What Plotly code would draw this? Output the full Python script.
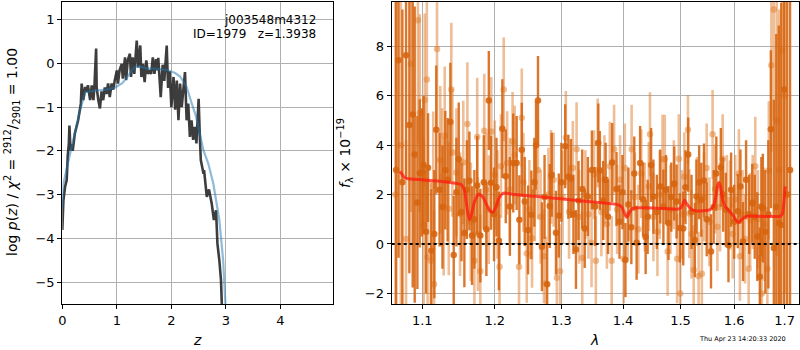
import plotly.graph_objects as go

# ---------------- p(z) panel data ----------------
z_pz = [0.0, 0.02, 0.05, 0.08, 0.10, 0.12, 0.13, 0.15, 0.17, 0.19, 0.23, 0.29, 0.34, 0.355,
        0.385, 0.42, 0.44, 0.47, 0.51, 0.54, 0.57, 0.59, 0.62, 0.63, 0.66, 0.69, 0.72, 0.75,
        0.78, 0.81, 0.84, 0.87, 0.905, 0.935, 0.96, 1.0, 1.02, 1.05, 1.09, 1.11, 1.15, 1.17,
        1.2, 1.24, 1.26, 1.29, 1.32, 1.365, 1.39, 1.43, 1.45, 1.48, 1.51, 1.54, 1.57, 1.60,
        1.63, 1.66, 1.69, 1.72, 1.745, 1.76, 1.805, 1.84, 1.87, 1.915, 1.94, 1.97, 2.0, 2.04,
        2.07, 2.1, 2.13, 2.16, 2.19, 2.25, 2.28, 2.31, 2.34, 2.37, 2.4, 2.43, 2.46, 2.5,
        2.52, 2.54, 2.59, 2.6, 2.65, 2.69, 2.74, 2.78, 2.82, 2.845, 2.88, 2.91, 2.925, 2.95]
logp_pz = [-3.81, -3.13, -2.82, -2.67, -2.1, -1.83, -1.42, -1.99, -1.85, -2.0, -1.6, -1.3, -0.92, -0.46,
           -0.84, -0.54, -0.65, -0.5, -0.84, -0.5, -0.84, -0.5, 0.34, -0.55, -0.84, -1.03, -0.64, -0.84,
           -0.55, -0.7, -0.46, -0.77, -0.46, -0.6, -0.4, -0.16, -0.46, -0.16, -0.01, -0.35, 0.14, -0.38,
           0.07, 0.22, -0.31, 0.14, -0.24, 0.52, -0.09, 0.41, -0.31, -0.01, -0.43, 0.07, -0.24, -0.16,
           -0.24, 0.14, -0.24, 0.1, -0.16, 0.13, -0.77, -0.03, -0.4, 0.41, -0.56, -0.18, -1.0, -0.31,
           -1.06, -0.39, -1.3, -0.46, -1.0, -0.2, -1.3, -0.92, -1.68, -1.3, -1.75, -1.45, -1.83, -0.81,
           -1.6, -2.21, -2.52, -2.44, -3.05, -2.88, -3.2, -3.58, -3.36, -4.12, -4.5, -4.95, -5.48, -6.5]

z_fit = [0.0, 0.02, 0.1, 0.17, 0.25, 0.33, 0.42, 0.45, 0.63, 0.8, 0.97, 1.1, 1.18, 1.28, 1.36,
         1.45, 1.55, 1.7, 1.92, 2.07, 2.16, 2.28, 2.37, 2.45, 2.59, 2.68, 2.77, 2.88, 2.95, 2.99, 3.02]
logp_fit = [-3.3, -2.75, -2.3, -1.91, -1.5, -1.05, -0.66, -0.65, -0.62, -0.6, -0.55, -0.45, -0.33, -0.15, -0.07,
            -0.08, -0.12, -0.12, -0.15, -0.22, -0.3, -0.54, -0.9, -1.2, -1.99, -2.3, -2.75, -3.58, -4.5, -5.5, -6.2]

# ---------------- spectrum panel data ----------------
lam_dark = [1.066, 1.069, 1.074, 1.0787, 1.083, 1.0874, 1.090, 1.0935, 1.0966, 1.0995, 1.1018, 1.105,
            1.1076, 1.112, 1.116, 1.1186, 1.123, 1.127, 1.1308, 1.134, 1.1377, 1.1423, 1.146, 1.1492,
            1.153, 1.157, 1.1605, 1.164, 1.1677, 1.171, 1.175, 1.1794, 1.1843, 1.188, 1.1915, 1.1947,
            1.199, 1.2025, 1.206, 1.211, 1.216, 1.222, 1.227, 1.232, 1.236, 1.2396, 1.244, 1.249,
            1.254, 1.2585, 1.261, 1.264, 1.27, 1.274, 1.278, 1.282, 1.285, 1.2916, 1.296, 1.30,
            1.306, 1.311, 1.315, 1.319, 1.323, 1.327, 1.333, 1.337, 1.342, 1.3485, 1.354, 1.359,
            1.3615, 1.367, 1.371, 1.375, 1.3818, 1.389, 1.394, 1.399, 1.404, 1.409, 1.414, 1.419,
            1.423, 1.429, 1.434, 1.4385, 1.442, 1.448, 1.452, 1.458, 1.464, 1.4695, 1.474, 1.4785,
            1.4835, 1.4888, 1.493, 1.499, 1.505, 1.509, 1.514, 1.52, 1.526, 1.529, 1.534, 1.538,
            1.543, 1.548, 1.556, 1.561, 1.566, 1.5745, 1.579, 1.584, 1.589, 1.594, 1.60, 1.607,
            1.612, 1.617, 1.623, 1.629, 1.635, 1.640, 1.645, 1.65, 1.653, 1.656, 1.661, 1.667,
            1.672, 1.678, 1.683, 1.688, 1.693, 1.699, 1.705, 1.711]
flux_dark = [3.0, 7.44, 2.5, 7.64, 4.82, 5.24, 3.62, 1.68, 2.86, 2.9, 3.2, 0.5,
             3.09, -0.27, 0.4, 4.63, 2.2, 1.5, 2.99, 2.6, 4.94, -0.45, 2.1, 3.43,
             1.3, 0.45, 2.2, 2.56, 0.34, 1.0, 2.37, 0.34, 2.5, 0.6, 5.81, 2.48,
             1.2, 2.3, 0.13, 4.67, 2.74, 1.52, 3.28, 3.28, 0.98, 3.82, 1.72, 0.57,
             1.18, 2.5, 4.0, 5.81, -0.11, 1.9, -1.63, 1.54, 2.8, 0.46, 1.15, 2.5,
             3.96, 2.72, 2.65, 1.2, -0.22, 1.76, 2.23, 0.63, 1.92, 3.0, 1.52, 4.09,
             2.98, 1.76, 2.6, 1.1, 3.3, 2.23, 0.9, 2.1, -0.65, 1.6, 0.68, 2.85,
             0.05, 3.28, 1.8, 0.28, 1.1, 3.2, 1.92, 1.3, 2.33, 1.52, 2.2, 0.85,
             1.9, 2.45, 1.72, 0.65, 0.63, 2.3, 3.62, 1.3, 0.16, 1.92, 2.5, 1.79,
             2.57, 1.0, -0.3, 1.5, 2.85, 3.1, 2.0, 1.39, -0.05, 2.2, 0.9, 1.33,
             2.33, 0.1, 2.6, 1.2, 1.65, 1.1, 0.3, -1.33, 1.52, 1.45, 0.5, 1.2,
             4.65, -0.16, 1.5, 0.85, 0.77, 6.26, 2.0, 3.0]
err_dark = [9, 8, 7, 5, 6, 7, 6, 3.5, 3.0, 2.6, 2.8, 2.5,
            2.2, 2.5, 2.6, 2.6, 2.3, 2.5, 2.4, 2.5, 2.4, 2.4, 2.2, 2.3,
            2.0, 2.2, 2.0, 2.0, 2.0, 2.0, 2.0, 1.9, 1.9, 1.9, 2.0, 1.9,
            1.9, 2.0, 2.0, 2.0, 1.9, 2.0, 2.0, 1.9, 1.8, 1.9, 1.8, 1.8,
            1.8, 1.8, 1.8, 1.8, 1.8, 1.7, 1.7, 1.7, 1.7, 1.7, 1.7, 1.6,
            1.7, 1.7, 1.6, 1.6, 1.6, 1.6, 1.6, 1.6, 1.6, 1.6, 1.6, 1.6,
            1.6, 1.6, 1.5, 1.5, 1.6, 1.5, 1.5, 1.5, 1.5, 1.5, 1.5, 1.5,
            1.5, 1.5, 1.5, 1.5, 1.5, 1.5, 1.5, 1.5, 1.5, 1.5, 1.4, 1.5,
            1.4, 1.5, 1.5, 1.4, 1.5, 1.5, 1.5, 1.5, 1.5, 1.5, 1.5, 1.5,
            1.5, 1.5, 1.5, 1.5, 1.5, 1.6, 1.5, 1.5, 1.5, 1.5, 1.5, 1.5,
            1.5, 1.6, 1.6, 1.6, 1.6, 1.7, 1.8, 2.0, 2.0, 2.2, 2.5, 3.0,
            3.2, 6, 7, 8, 9, 9, 10, 10]

lam_light = [1.065, 1.072, 1.0787, 1.085, 1.0942, 1.0966, 1.1018, 1.1032, 1.106, 1.107, 1.1113,
             1.1145, 1.1156, 1.1196, 1.124, 1.1264, 1.1286, 1.130, 1.1355, 1.139, 1.1405, 1.146,
             1.151, 1.1555, 1.1612, 1.166, 1.171, 1.175, 1.176, 1.1794, 1.185, 1.188, 1.1915,
             1.195, 1.2, 1.204, 1.207, 1.209, 1.213, 1.218, 1.222, 1.226, 1.229, 1.2355,
             1.2396, 1.242, 1.247, 1.251, 1.255, 1.259, 1.264, 1.268, 1.273, 1.276, 1.280,
             1.284, 1.288, 1.293, 1.298, 1.302, 1.307, 1.312, 1.318, 1.324, 1.328, 1.333,
             1.338, 1.343, 1.348, 1.352, 1.355, 1.358, 1.364, 1.369, 1.373, 1.378, 1.381,
             1.385, 1.390, 1.395, 1.401, 1.403, 1.408, 1.4145, 1.42, 1.426, 1.431, 1.437,
             1.444, 1.446, 1.452, 1.459, 1.463, 1.468, 1.472, 1.477, 1.482, 1.488, 1.494,
             1.497, 1.4995, 1.503, 1.507, 1.5135, 1.516, 1.520, 1.524, 1.530, 1.533, 1.539,
             1.543, 1.548, 1.553, 1.559, 1.5635, 1.568, 1.573, 1.578, 1.586, 1.592, 1.597,
             1.602, 1.609, 1.611, 1.616, 1.621, 1.628, 1.631, 1.636, 1.641, 1.646, 1.651,
             1.654, 1.659, 1.665, 1.668, 1.673, 1.678, 1.684, 1.689, 1.695, 1.70]
flux_light = [2.0, 4.0, 0.2, 7.3, 9.06, 5.3, 0.77, 5.83, 6.66, -0.53, -0.68,
              2.36, -1.63, 7.9, 3.4, 2.7, 1.52, 4.39, 1.43, 6.26, 3.7, 2.9,
              1.2, 3.3, 4.86, 0.9, -0.68, 4.33, 0.4, -1.1, 4.59, 2.2, 1.39,
              4.56, 2.8, 1.6, -0.92, 3.15, 6.26, 3.28, 2.2, 4.15, 3.6, -0.92,
              5.11, 2.5, -0.38, 1.4, 0.23, 2.1, 3.0, 1.1, -0.5, -1.6, 2.0,
              2.72, 2.6, -1.37, -1.1, 1.9, 4.3, 1.3, 3.08, 3.84, 1.1, -0.57,
              2.0, 1.2, 0.05, 2.81, -0.68, 4.09, 1.3, 2.6, 0.8, 3.15, -0.68,
              3.84, 1.4, 2.6, -0.6, 3.08, 1.2, 3.84, 1.9, 0.6, 2.85, 1.5,
              2.33, 4.44, 1.1, 0.5, 2.0, 3.43, 3.43, -0.3, 1.4, 2.4, -0.6,
              3.45, -2.0, 1.2, 2.72, 4.63, 1.23, 0.4, -1.05, 1.72, -1.3, -1.2,
              1.9, 3.08, 0.9, 4.44, 2.23, 0.7, 1.5, 3.45, 1.8, 1.58, 0.4,
              1.8, 2.85, -0.5, 1.2, 0.2, -1.0, 0.97, 1.7, 3.15, 1.0, -0.57,
              -2.0, 0.8, -1.0, 2.98, 7.24, 9.5, 5.0, 3.0, 7.83, 6.0]
err_light = [9, 8, 4, 6, 5, 4, 3.5, 3.5, 3.4, 3.2, 3.2,
             3.0, 3.0, 3.4, 3.0, 2.8, 2.8, 2.8, 2.7, 2.7, 2.6, 2.6,
             2.5, 2.5, 2.5, 2.4, 2.4, 2.4, 2.3, 2.3, 2.3, 2.3, 2.2,
             2.2, 2.2, 2.2, 2.1, 2.1, 2.1, 2.1, 2.1, 2.0, 2.0, 2.0,
             2.0, 2.0, 2.0, 2.0, 2.0, 2.0, 2.0, 1.9, 1.9, 1.9, 1.9,
             1.9, 1.9, 1.9, 1.9, 1.9, 1.9, 1.9, 1.9, 1.9, 1.9, 1.9,
             1.8, 1.8, 1.8, 1.8, 1.8, 1.8, 1.8, 1.8, 1.8, 1.8, 1.8,
             1.8, 1.8, 1.8, 1.8, 1.8, 1.8, 1.8, 1.8, 1.8, 1.8, 1.8,
             1.8, 1.7, 1.8, 1.8, 1.8, 1.8, 1.8, 1.8, 1.8, 1.8, 1.8,
             1.8, 1.8, 1.8, 1.8, 1.4, 1.8, 1.8, 1.8, 1.8, 1.8, 1.8,
             1.8, 1.8, 1.8, 1.8, 1.8, 1.8, 1.8, 1.8, 1.8, 1.8, 1.8,
             1.8, 1.8, 1.8, 1.8, 1.8, 1.9, 1.9, 1.9, 2.0, 2.0, 2.1,
             2.2, 2.3, 2.5, 2.8, 3.5, 4.5, 5.5, 6.5, 7, 8]

lam_model = [1.071, 1.073, 1.076, 1.08, 1.10, 1.12, 1.142, 1.152, 1.157, 1.161, 1.164, 1.167,
             1.171, 1.177, 1.183, 1.189, 1.193, 1.197, 1.201, 1.206, 1.211, 1.215, 1.23, 1.26,
             1.302, 1.35, 1.39, 1.398, 1.402, 1.406, 1.41, 1.417, 1.43, 1.46, 1.493, 1.5,
             1.504, 1.507, 1.512, 1.52, 1.53, 1.553, 1.56, 1.565, 1.568, 1.571, 1.574, 1.578,
             1.583, 1.59, 1.598, 1.604, 1.609, 1.614, 1.623, 1.65, 1.69, 1.695, 1.698, 1.701]
flux_model = [2.94, 2.85, 2.71, 2.65, 2.6, 2.55, 2.47, 2.42, 2.2, 1.4, 0.98, 1.2,
              1.7, 2.02, 1.9, 1.55, 1.35, 1.29, 1.45, 1.85, 2.03, 2.06, 2.0, 1.93,
              1.82, 1.7, 1.6, 1.5, 1.25, 1.08, 1.25, 1.45, 1.47, 1.45, 1.41, 1.45,
              1.6, 1.78, 1.6, 1.4, 1.34, 1.38, 1.5, 1.9, 2.3, 2.49, 2.3, 1.8,
              1.52, 1.35, 1.15, 0.95, 0.87, 0.98, 1.12, 1.12, 1.12, 1.2, 1.6, 2.33]

lam_ticks = [1.1, 1.2, 1.3, 1.4, 1.5, 1.6, 1.7]
z_ticks = [0, 1, 2, 3, 4]
pz_ticks = [-5, -4, -3, -2, -1, 0, 1]
f_ticks = [-2, 0, 2, 4, 6, 8]

FONT = "DejaVu Sans"
DARK = "rgba(214,100,15,0.88)"
LIGHT = "rgba(226,125,45,0.5)"

fig = go.Figure()

fig.add_trace(go.Scatter(x=z_pz, y=logp_pz, mode="lines", xaxis="x", yaxis="y",
                         line=dict(color="rgba(40,40,40,0.9)", width=2.6), showlegend=False))
fig.add_trace(go.Scatter(x=z_fit, y=logp_fit, mode="lines", xaxis="x", yaxis="y",
                         line=dict(color="rgba(31,119,180,0.5)", width=2.2),
                         showlegend=False))

fig.add_trace(go.Scatter(x=lam_light, y=flux_light, mode="markers", xaxis="x2", yaxis="y2",
                         marker=dict(color=LIGHT, size=6.5),
                         error_y=dict(type="data", array=err_light, color=LIGHT, thickness=2.6, width=0),
                         showlegend=False))
fig.add_trace(go.Scatter(x=lam_dark, y=flux_dark, mode="markers", xaxis="x2", yaxis="y2",
                         marker=dict(color=DARK, size=6.5),
                         error_y=dict(type="data", array=err_dark, color=DARK, thickness=2.4, width=0),
                         showlegend=False))
fig.add_trace(go.Scatter(x=lam_model, y=flux_model, mode="lines", xaxis="x2", yaxis="y2",
                         line=dict(color="rgba(255,25,15,0.75)", width=3, shape="spline", smoothing=0.5),
                         showlegend=False))

fig.add_shape(type="line", xref="x2 domain", x0=0, x1=1, yref="y2", y0=0, y1=0,
              line=dict(color="black", width=2, dash="dot"))

ax_common = dict(showgrid=True, gridcolor="#b0b0b0", gridwidth=1, showline=True, linecolor="black",
                 linewidth=1.2, mirror=True, ticks="outside", ticklen=4, tickcolor="black",
                 zeroline=False, automargin=False,
                 tickfont=dict(family=FONT, size=13, color="black"))

fig.update_layout(
    width=800, height=350,
    margin=dict(l=0, r=0, t=0, b=0, autoexpand=False),
    paper_bgcolor="white", plot_bgcolor="white",
    font=dict(family=FONT, color="black"),
    xaxis=dict(domain=[0.0779, 0.4166], range=[0, 4.97], tickvals=z_ticks, anchor="y", **ax_common),
    yaxis=dict(domain=[0.1314, 0.9951], range=[-5.5, 1.41], tickvals=pz_ticks,
               ticktext=[str(v).replace("-", "\u2212") for v in pz_ticks], anchor="x", **ax_common),
    xaxis2=dict(domain=[0.4896, 0.9991], type="log", range=[0.02541, 0.23807], tickvals=lam_ticks,
                ticktext=[f"{v:.1f}" for v in lam_ticks], anchor="y2", **ax_common),
    yaxis2=dict(domain=[0.1314, 0.9951], range=[-2.43, 9.81], tickvals=f_ticks,
                ticktext=[str(v).replace("-", "\u2212") for v in f_ticks], anchor="x2", **ax_common),
)

annos = [
    dict(x=0.3975, y=1 - 20 / 350, xref="paper", yref="paper", text="j003548m4312",
         showarrow=False, xanchor="right", yanchor="middle", font=dict(size=12)),
    dict(x=0.3975, y=1 - 34.5 / 350, xref="paper", yref="paper", text="ID=1979   z=1.3938",
         showarrow=False, xanchor="right", yanchor="middle", font=dict(size=12)),
    dict(x=12 / 800, y=1 - 152 / 350, xref="paper", yref="paper",
         text="log <i>p</i>(<i>z</i>) / <i>χ</i><sup>2</sup> = <sup>2912</sup>/<sub>2901</sub> = 1.00",
         textangle=-90, showarrow=False, xanchor="center", yanchor="middle", font=dict(size=14)),
    dict(x=197 / 800, y=1 - 340 / 350, xref="paper", yref="paper", text="<i>z</i>",
         showarrow=False, xanchor="center", yanchor="middle", font=dict(size=14)),
    dict(x=594 / 800, y=1 - 340 / 350, xref="paper", yref="paper", text="<i>λ</i>",
         showarrow=False, xanchor="center", yanchor="middle", font=dict(size=14)),
    dict(x=345 / 800, y=1 - 153 / 350, xref="paper", yref="paper",
         text="<i>f</i><sub>λ</sub> × 10<sup>−19</sup>",
         textangle=-90, showarrow=False, xanchor="center", yanchor="middle", font=dict(size=14)),
    dict(x=788 / 800, y=1 - 339 / 350, xref="paper", yref="paper", text="Thu Apr 23 14:20:33 2020",
         showarrow=False, xanchor="right", yanchor="middle", font=dict(size=6.5)),
]
fig.update_layout(annotations=annos)

fig.write_html("out.html", config={"displayModeBar": False},
               post_script="document.body.style.margin='0';")
